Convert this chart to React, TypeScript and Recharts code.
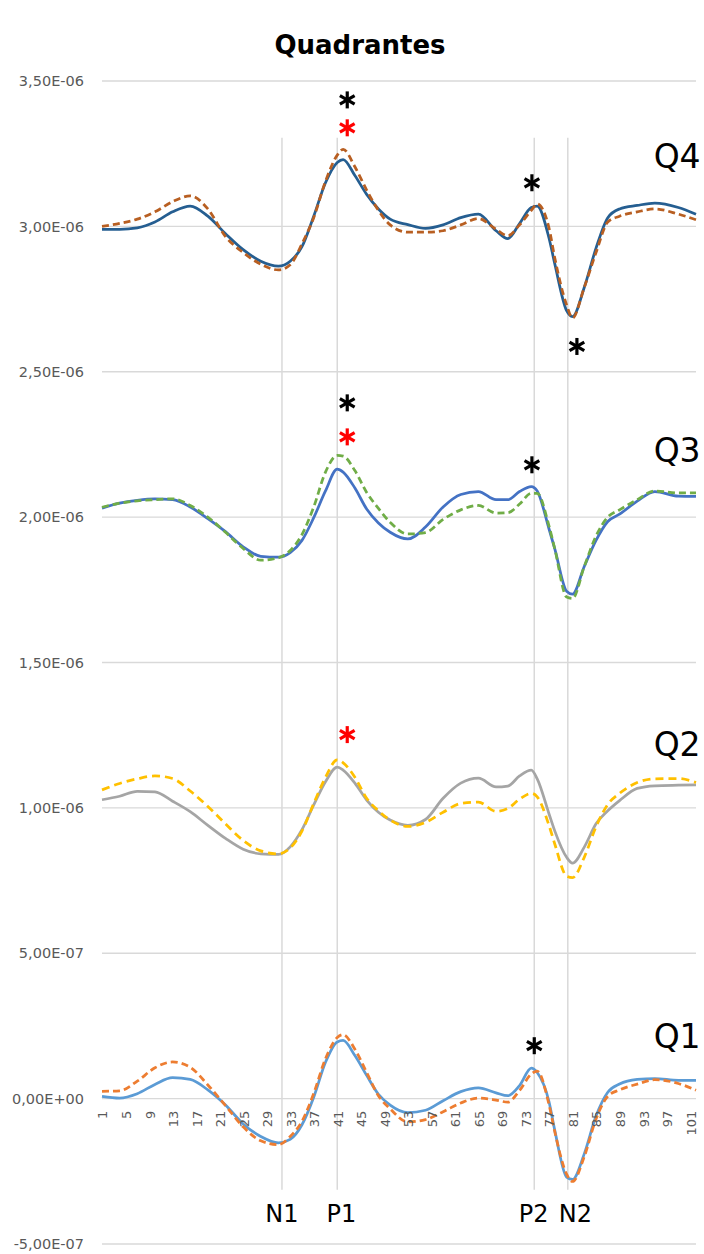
import React from 'react';
import {
  LineChart,
  Line,
  XAxis,
  YAxis,
  CartesianGrid,
  ReferenceLine,
  ReferenceDot,
} from 'recharts';

// Sample positions along the 1..102 axis (values are in units of 1E-07)
const X = [
  1, 4, 7, 10, 13, 16, 19, 22, 25, 28, 31, 33, 35, 37, 39, 41, 42, 44, 46, 48, 50, 53,
  56, 59, 62, 65, 68, 70, 72, 74, 75, 77, 78, 80, 81, 83, 85, 87, 89, 92, 95, 99, 102,
];

const Q4_SOLID = [
  29.9, 29.9, 29.95, 30.15, 30.5, 30.7, 30.35, 29.75, 29.2, 28.8, 28.63, 28.8, 29.3, 30.35,
  31.5, 32.2, 32.3, 31.75, 31.1, 30.6, 30.25, 30.06, 29.93, 30.05, 30.3, 30.42, 29.85, 29.58,
  30.1, 30.65, 30.7, 29.6, 28.7, 27.1, 26.9, 27.9, 29.25, 30.3, 30.6, 30.72, 30.8, 30.65, 30.42,
];
const Q4_DASH = [
  30.0, 30.1, 30.25, 30.5, 30.85, 31.05, 30.6, 29.65, 29.1, 28.7, 28.5, 28.68, 29.4, 30.3,
  31.55, 32.45, 32.65, 32.05, 31.25, 30.55, 30.05, 29.8, 29.8, 29.85, 30.05, 30.27, 29.9, 29.68,
  30.05, 30.55, 30.77, 29.95, 28.9, 27.3, 26.85, 27.9, 29.1, 30.15, 30.35, 30.5, 30.6, 30.42, 30.23,
];
const Q3_SOLID = [
  20.31, 20.48, 20.58, 20.63, 20.6, 20.35, 19.95, 19.5, 18.98, 18.65, 18.62, 18.78, 19.2, 19.98,
  20.9, 21.65, 21.55, 21.0, 20.28, 19.8, 19.48, 19.25, 19.66, 20.35, 20.78, 20.88, 20.6, 20.6,
  20.88, 21.05, 20.9, 19.6, 18.9, 17.45, 17.35, 18.3, 19.2, 19.85, 20.1, 20.55, 20.88, 20.72, 20.71,
];
const Q3_DASH = [
  20.34, 20.48, 20.56, 20.6, 20.63, 20.4, 20.0, 19.48, 18.92, 18.52, 18.6, 18.85, 19.4, 20.35,
  21.55, 22.12, 22.1, 21.6, 20.85, 20.3, 19.82, 19.42, 19.47, 19.92, 20.25, 20.4, 20.14, 20.15,
  20.45, 20.82, 20.82, 19.7, 18.9, 17.25, 17.2, 18.3, 19.35, 20.0, 20.25, 20.6, 20.9, 20.83, 20.83,
];
const Q2_SOLID = [
  10.28, 10.4, 10.57, 10.55, 10.23, 9.87, 9.4, 8.95, 8.58, 8.42, 8.4, 8.66, 9.25, 10.1,
  10.9, 11.4, 11.3, 10.85, 10.27, 9.85, 9.58, 9.4, 9.6, 10.33, 10.85, 11.02, 10.72, 10.75,
  11.1, 11.3, 11.0, 9.8, 9.2, 8.3, 8.1, 8.65, 9.45, 9.9, 10.25, 10.67, 10.76, 10.78, 10.79,
];
const Q2_DASH = [
  10.62, 10.84, 11.0, 11.1, 11.01, 10.58, 10.05, 9.45, 8.88, 8.52, 8.42, 8.62, 9.2, 10.15,
  11.05, 11.65, 11.55, 11.05, 10.33, 9.9, 9.58, 9.36, 9.5, 9.85, 10.15, 10.2, 9.88, 9.98,
  10.3, 10.5, 10.38, 9.4, 8.75, 7.65, 7.6, 8.3, 9.35, 10.12, 10.5, 10.87, 11.0, 11.01, 10.87,
];
const Q1_SOLID = [
  0.08, 0.02, 0.17, 0.49, 0.72, 0.66, 0.3, -0.22, -0.87, -1.3, -1.52, -1.4, -0.9, 0.05,
  1.25, 1.95, 2.0, 1.48, 0.8, 0.15, -0.22, -0.48, -0.4, -0.07, 0.24, 0.37, 0.2, 0.1,
  0.45, 1.05, 0.9, -0.1, -1.1, -2.7, -2.78, -1.9, -0.6, 0.22, 0.5, 0.66, 0.69, 0.63, 0.63,
];
const Q1_DASH = [
  0.25, 0.27, 0.6, 1.06, 1.26, 1.08, 0.47, -0.24, -0.97, -1.45, -1.58, -1.3, -0.78, 0.18,
  1.37, 2.1, 2.2, 1.7, 0.9, 0.1, -0.35, -0.8, -0.72, -0.45, -0.15, 0.02, -0.05, -0.12,
  0.28, 0.85, 0.95, -0.2, -1.15, -2.6, -2.85, -2.0, -0.7, 0.08, 0.3, 0.5, 0.65, 0.52, 0.29,
];

const X_TICKS = [1, 5, 9, 13, 17, 21, 25, 29, 33, 37, 41, 45, 49, 53, 57, 61, 65, 69, 73, 77, 81, 85, 89, 93, 97, 101];
const Y_TICKS = [-5, 0, 5, 10, 15, 20, 25, 30, 35];

// vertical markers (position on the x axis) and their labels
const MARKERS = [
  { name: 'N1', x: 31.6, labelX: 31.6 },
  { name: 'P1', x: 41, labelX: 41.7 },
  { name: 'P2', x: 74.5, labelX: 74.4 },
  { name: 'N2', x: 80.2, labelX: 81.5 },
];
const MARKER_TOP = 33.05;
const MARKER_BOTTOM = -3.13;
const MARKER_LABEL_Y = -4.23;

const QUADRANT_LABELS = [
  { name: 'Q4', y: 32.0 },
  { name: 'Q3', y: 21.9 },
  { name: 'Q2', y: 11.8 },
  { name: 'Q1', y: 1.75 },
];
const QUADRANT_LABEL_X = 94.8;

// significance asterisks
const STARS = [
  { x: 42.7, y: 34.35, color: '#000000' },
  { x: 42.7, y: 33.39, color: '#ff0000' },
  { x: 74.1, y: 31.5, color: '#000000' },
  { x: 81.75, y: 25.87, color: '#000000' },
  { x: 42.7, y: 23.93, color: '#000000' },
  { x: 42.7, y: 22.76, color: '#ff0000' },
  { x: 74.1, y: 21.8, color: '#000000' },
  { x: 42.7, y: 12.52, color: '#ff0000' },
  { x: 74.5, y: 1.82, color: '#000000' },
];

const SERIES = [
  { key: 'q4s', data: Q4_SOLID, color: '#255E91', dash: undefined },
  { key: 'q3s', data: Q3_SOLID, color: '#4472C4', dash: undefined },
  { key: 'q2s', data: Q2_SOLID, color: '#A5A5A5', dash: undefined },
  { key: 'q1s', data: Q1_SOLID, color: '#5B9BD5', dash: undefined },
  { key: 'q4d', data: Q4_DASH, color: '#B85F22', dash: '7 4' },
  { key: 'q3d', data: Q3_DASH, color: '#70AD47', dash: '7 4' },
  { key: 'q2d', data: Q2_DASH, color: '#FFC000', dash: '8 5' },
  { key: 'q1d', data: Q1_DASH, color: '#ED7D31', dash: '7 4' },
];

const W = 704;
const H = 1254;
const MARGIN = { top: 81, right: 8, bottom: 9, left: 0 };
const X_AXIS_H = 1;
const Y_MIN = -5;
const Y_MAX = 35;
const PLOT_H = H - MARGIN.top - MARGIN.bottom - X_AXIS_H;
const ZERO_Y = MARGIN.top + (PLOT_H * Y_MAX) / (Y_MAX - Y_MIN);

const FONT = '"DejaVu Sans", "Liberation Sans", sans-serif';
const TEXT_GRAY = '#595959';
const GRID = '#D9D9D9';

const chartData = X.map((x, i) => {
  const row: Record<string, number> = { x };
  SERIES.forEach((s) => {
    row[s.key] = s.data[i];
  });
  return row;
});

// Excel style "3,50E-06"
const formatSci = (v: number) => {
  const n = v * 1e-7;
  if (Math.abs(n) < 1e-15) return '0,00E+00';
  const [m, e] = n.toExponential(2).split('e');
  const exp = parseInt(e, 10);
  return `${m.replace('.', ',')}E${exp < 0 ? '-' : '+'}${String(Math.abs(exp)).padStart(2, '0')}`;
};

// category labels sit just under the zero line, rotated
const renderXTick = (props: any) => {
  const { x, payload, index } = props;
  const y = ZERO_Y + 12;
  return (
    <text
      key={`xt-${index}`}
      x={x}
      y={y}
      dy="0.42em"
      transform={`rotate(-90, ${x}, ${y})`}
      textAnchor="end"
      fontSize={13}
      fill={TEXT_GRAY}
      fontFamily={FONT}
    >
      {payload.value}
    </text>
  );
};

const Star = ({ cx, cy, color }: { cx: number; cy: number; color: string }) => {
  const r = 8.5;
  const dx = r * Math.cos(Math.PI / 6);
  const dy = r * Math.sin(Math.PI / 6);
  return (
    <g stroke={color} strokeWidth={3.2}>
      <line x1={cx} y1={cy - r} x2={cx} y2={cy + r} />
      <line x1={cx - dx} y1={cy - dy} x2={cx + dx} y2={cy + dy} />
      <line x1={cx - dx} y1={cy + dy} x2={cx + dx} y2={cy - dy} />
    </g>
  );
};

export default function App() {
  return (
    <div style={{ position: 'absolute', left: 0, top: 0, width: W, height: H, background: '#fff' }}>
      <svg width={W} height={70} style={{ position: 'absolute', left: 0, top: 0 }}>
        <text x={360} y={54} textAnchor="middle" fontSize={26} fontWeight="bold" fontFamily={FONT} fill="#000">
          Quadrantes
        </text>
      </svg>
      <LineChart width={W} height={H} data={chartData} margin={MARGIN}>
        <CartesianGrid vertical={false} stroke={GRID} strokeWidth={1.3} />
        <XAxis
          dataKey="x"
          type="number"
          domain={[1, 102]}
          ticks={X_TICKS}
          interval={0}
          height={X_AXIS_H}
          axisLine={false}
          tickLine={false}
          tick={renderXTick}
        />
        <YAxis
          type="number"
          domain={[Y_MIN, Y_MAX]}
          ticks={Y_TICKS}
          interval={0}
          width={102}
          axisLine={false}
          tickLine={false}
          tickSize={0}
          tickMargin={18}
          tickFormatter={formatSci}
          tick={{ fill: TEXT_GRAY, fontSize: 14.5, fontFamily: FONT }}
        />
        {MARKERS.map((m) => (
          <ReferenceLine
            key={m.name}
            segment={[
              { x: m.x, y: MARKER_TOP },
              { x: m.x, y: MARKER_BOTTOM },
            ]}
            stroke={GRID}
            strokeWidth={1.5}
          />
        ))}
        {SERIES.map((s) => (
          <Line
            key={s.key}
            type="monotone"
            dataKey={s.key}
            stroke={s.color}
            strokeWidth={2.75}
            strokeDasharray={s.dash}
            dot={false}
            activeDot={false}
            isAnimationActive={false}
          />
        ))}
        {MARKERS.map((m) => (
          <ReferenceDot
            key={`lbl-${m.name}`}
            x={m.labelX}
            y={MARKER_LABEL_Y}
            r={0}
            ifOverflow="visible"
            shape={(p: any) => (
              <text x={p.cx} y={p.cy} textAnchor="middle" fontSize={24} fontFamily={FONT} fill="#000">
                {m.name}
              </text>
            )}
          />
        ))}
        {QUADRANT_LABELS.map((q) => (
          <ReferenceDot
            key={q.name}
            x={QUADRANT_LABEL_X}
            y={q.y}
            r={0}
            ifOverflow="visible"
            shape={(p: any) => (
              <text x={p.cx} y={p.cy} textAnchor="start" fontSize={33} fontFamily={FONT} fill="#000">
                {q.name}
              </text>
            )}
          />
        ))}
        {STARS.map((s, i) => (
          <ReferenceDot
            key={`star-${i}`}
            x={s.x}
            y={s.y}
            r={0}
            ifOverflow="visible"
            shape={(p: any) => <Star cx={p.cx} cy={p.cy} color={s.color} />}
          />
        ))}
      </LineChart>
    </div>
  );
}
